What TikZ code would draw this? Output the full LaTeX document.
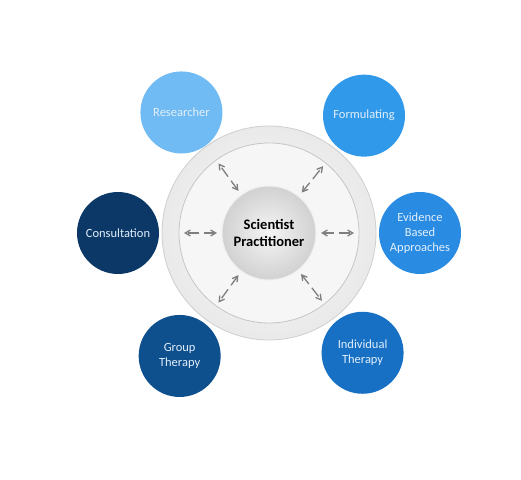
\documentclass[tikz,border=0pt]{standalone}
\usepackage{fontspec}
\setmainfont{Carlito}
\usetikzlibrary{arrows}
\usetikzlibrary{positioning}
\usetikzlibrary{calc}
\definecolor{rescol}{HTML}{70BBF3}
\definecolor{formcol}{HTML}{3199EA}
\definecolor{evicol}{HTML}{2A8BE2}
\definecolor{indcol}{HTML}{1770C4}
\definecolor{grpcol}{HTML}{0E4F8D}
\definecolor{concol}{HTML}{0B3866}
\definecolor{sattext}{HTML}{E2EFFB}
\definecolor{arrowgray}{HTML}{7F7F7F}

\begin{document}
\begin{tikzpicture}[x=1pt, y=1pt,
    sat/.style={circle, minimum size=82pt, inner sep=0pt, align=center,
      text=sattext, font=\fontsize{12.5}{15}\selectfont},
    link/.style={<->, >=angle 60, draw=arrowgray, line width=1.3pt,
      dash pattern=on 11pt off 5pt}]
    \useasboundingbox[fill=white] (0,0) rectangle (521,479);

    \coordinate (hub) at (269,246);
    \node[sat, fill=rescol] (res) at ([shift={(126:149pt)}]hub) {Researcher};
    \node[sat, fill=formcol] (form) at ([shift={(51:151pt)}]hub) {Formulating};
    \node[sat, fill=evicol] (evi) at ([shift={(0:151pt)}]hub) {Evidence\\Based\\Approaches};
    \node[sat, fill=indcol] (ind) at ([shift={(-52:152pt)}]hub) {Individual\\Therapy};
    \node[sat, fill=grpcol] (grp) at ([shift={(234:152pt)}]hub) {Group\\Therapy};
    \node[sat, fill=concol] (con) at ([shift={(180:151pt)}]hub) {Consultation};

    % ring and hub
    \node[circle, minimum size=214pt, draw=gray!38, line width=0.8pt,
      inner color=gray!3, outer color=gray!17] (rim) at (hub) {};
    \node[circle, minimum size=180pt, draw=gray!45, line width=0.8pt,
      fill=gray!7] (disc) at (hub) {};
    \node[circle, minimum size=94pt, draw=gray!12, line width=1pt,
      inner color=gray!8, outer color=gray!36, align=center,
      font=\fontsize{14.5}{16.5}\selectfont\bfseries] (core) at (hub) {Scientist\\Practitioner};

    \draw[link] ($(core)!52pt!(res)$) -- ($(core)!86pt!(res)$);
    \draw[link] ($(core)!52pt!(form)$) -- ($(core)!86pt!(form)$);
    \draw[link] ($(core)!52pt!(evi)$) -- ($(core)!85pt!(evi)$);
    \draw[link] ($(core)!52pt!(ind)$) -- ($(core)!86pt!(ind)$);
    \draw[link] ($(core)!52pt!(grp)$) -- ($(core)!86pt!(grp)$);
    \draw[link] ($(core)!52pt!(con)$) -- ($(core)!85pt!(con)$);
  \end{tikzpicture}
\end{document}
